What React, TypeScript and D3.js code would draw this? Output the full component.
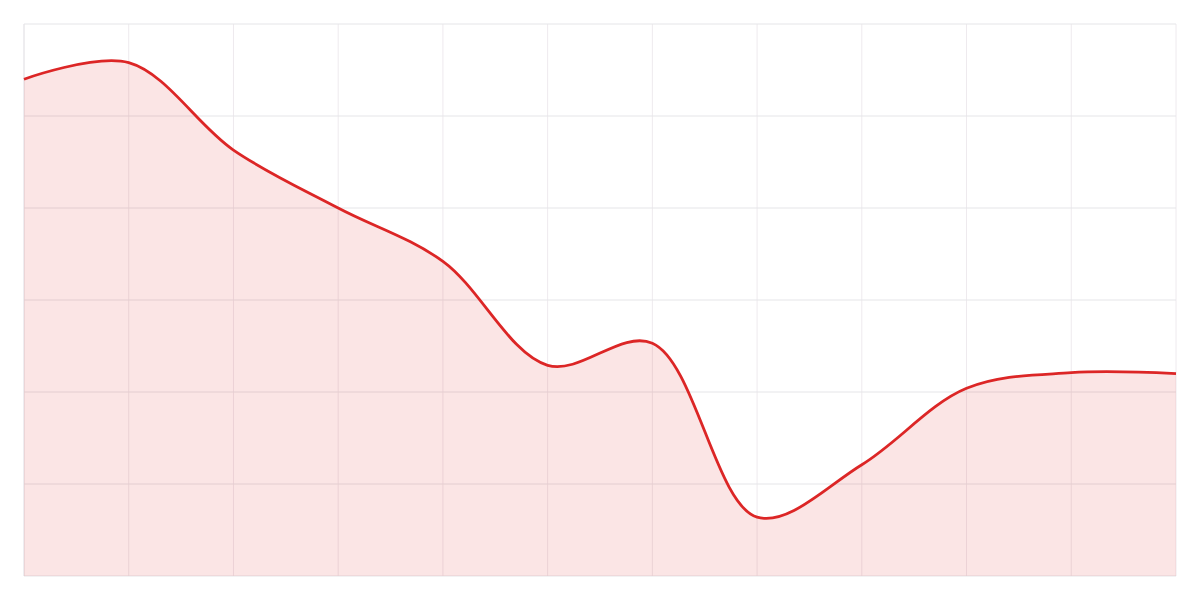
import { useRef, useEffect } from 'react';
import * as d3 from 'd3';

// one value per vertical gridline
const xIndex = [0, 1, 2, 3, 4, 5, 6, 7, 8, 9, 10, 11];
const values = [54.0, 55.8, 46.3, 40.0, 34.2, 22.9, 25.3, 6.4, 12.1, 20.4, 22.1, 22.0];
const yTicks = [0, 10, 20, 30, 40, 50, 60];

const WIDTH = 1200;
const HEIGHT = 600;
const margin = { top: 24, right: 24, bottom: 24, left: 24 };

export default function App() {
  const svgRef = useRef<SVGSVGElement>(null);

  useEffect(() => {
    if (!svgRef.current) return;
    const svg = d3.select(svgRef.current);
    svg.selectAll('*').remove();

    const innerWidth = WIDTH - margin.left - margin.right;
    const innerHeight = HEIGHT - margin.top - margin.bottom;

    const x = d3.scaleLinear().domain([0, xIndex.length - 1]).range([0, innerWidth]);
    const y = d3.scaleLinear().domain([0, 60]).range([innerHeight, 0]);

    const g = svg.append('g').attr('transform', `translate(${margin.left},${margin.top})`);

    // vertical gridlines
    g.append('g')
      .selectAll('line')
      .data(xIndex)
      .join('line')
      .attr('x1', (d) => x(d))
      .attr('x2', (d) => x(d))
      .attr('y1', 0)
      .attr('y2', innerHeight)
      .attr('stroke', '#eeeaee')
      .attr('stroke-width', 1);

    // horizontal gridlines
    g.append('g')
      .selectAll('line')
      .data(yTicks)
      .join('line')
      .attr('x1', 0)
      .attr('x2', innerWidth)
      .attr('y1', (d) => y(d))
      .attr('y2', (d) => y(d))
      .attr('stroke', '#e5e5e8')
      .attr('stroke-width', 1);

    // left border
    g.append('line')
      .attr('x1', 0)
      .attr('x2', 0)
      .attr('y1', 0)
      .attr('y2', innerHeight)
      .attr('stroke', '#e5e5e8');

    const curve = d3.curveCatmullRom.alpha(0.5);

    const area = d3
      .area<number>()
      .x((_, i) => x(xIndex[i]))
      .y0(y(0))
      .y1((d) => y(d))
      .curve(curve);

    const line = d3
      .line<number>()
      .x((_, i) => x(xIndex[i]))
      .y((d) => y(d))
      .curve(curve);

    g.append('path')
      .datum(values)
      .attr('d', area)
      .attr('fill', 'rgba(220, 38, 38, 0.12)');

    g.append('path')
      .datum(values)
      .attr('d', line)
      .attr('fill', 'none')
      .attr('stroke', '#dc2626')
      .attr('stroke-width', 2.8);
  }, []);

  return (
    <svg
      ref={svgRef}
      width={WIDTH}
      height={HEIGHT}
      style={{ position: 'absolute', left: 0, top: 0 }}
    ></svg>
  );
}
